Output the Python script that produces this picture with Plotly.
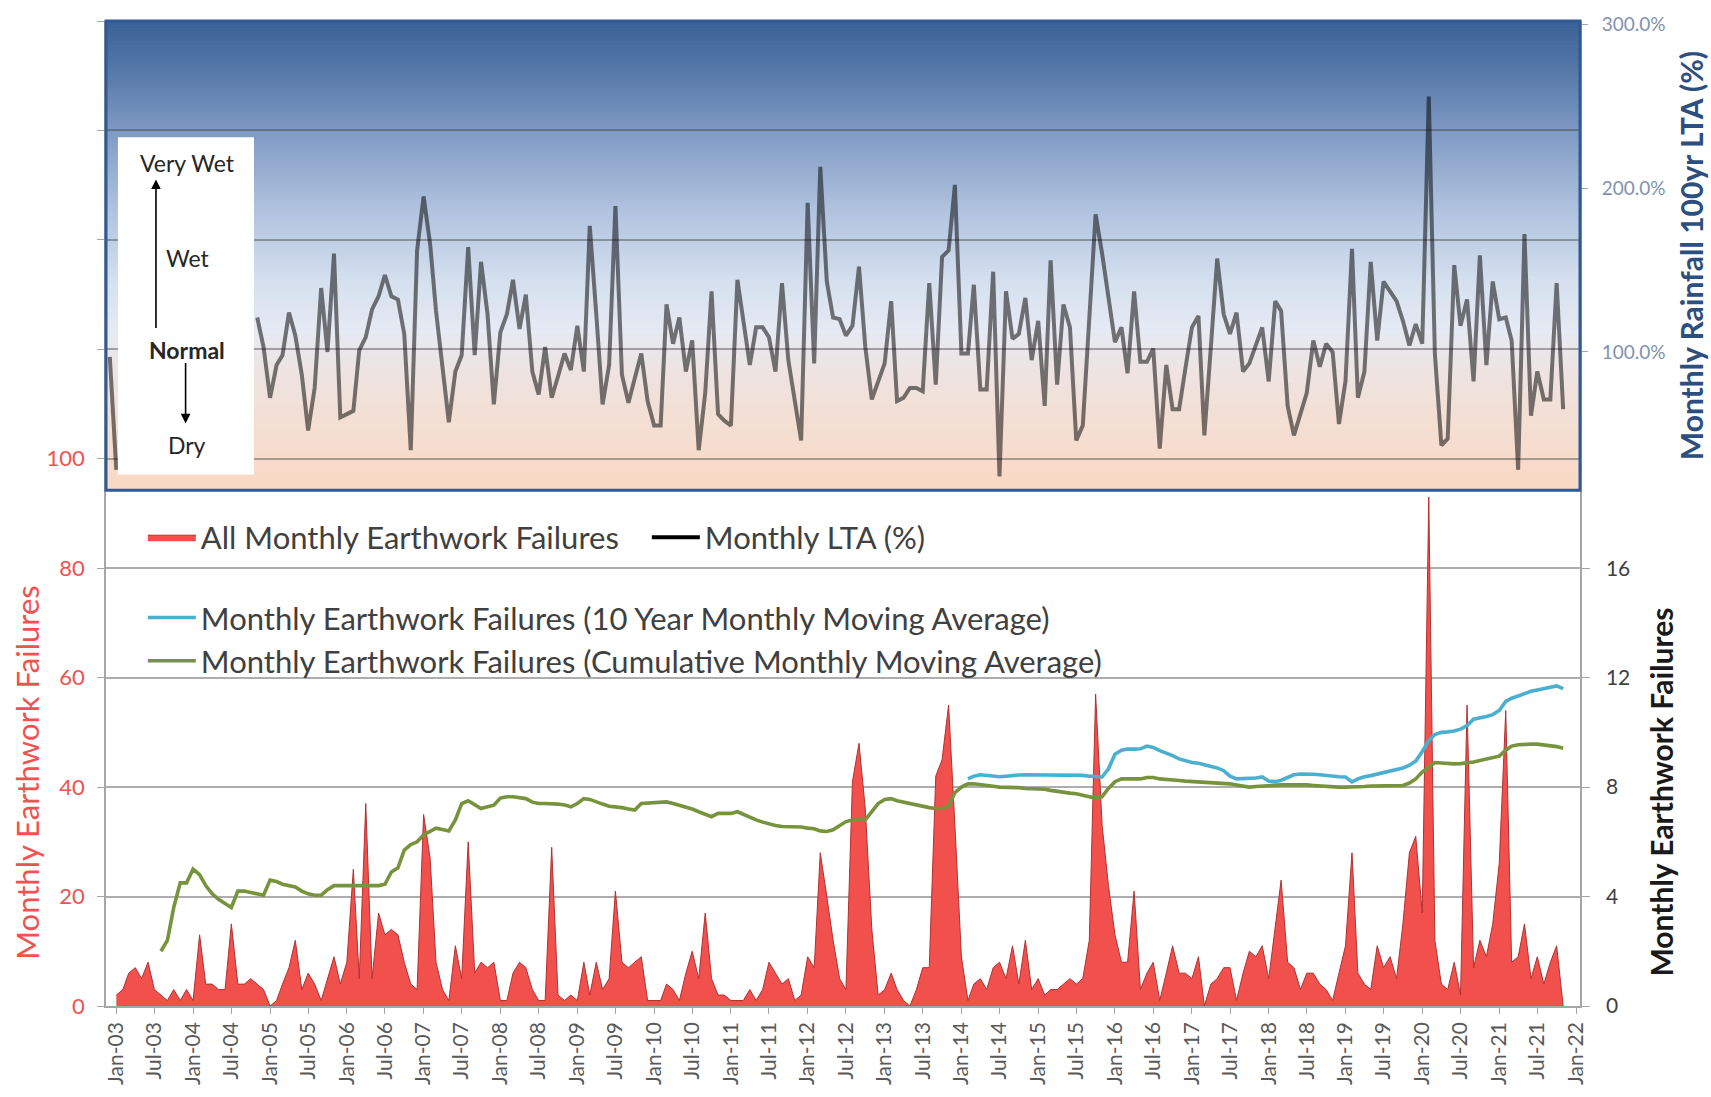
import pandas as pd
import plotly.graph_objects as go

# ---------------------------------------------------------------- data
# All monthly earthwork failures, Jan-03 .. Nov-21 (left axis)
fail_start = "2003-01-01"
failures = [
    2, 3, 6, 7, 5, 8, 3, 2, 1, 3,
    1, 3, 1, 13, 4, 4, 3, 3, 15, 4,
    4, 5, 4, 3, 0, 1, 4, 7, 12, 3,
    6, 4, 1, 5, 9, 4, 8, 25, 5, 37,
    5, 17, 13, 14, 13, 8, 4, 3, 35, 27,
    8, 3, 1, 11, 5, 30, 6, 8, 7, 8,
    1, 1, 6, 8, 7, 3, 1, 1, 29, 2,
    1, 2, 1, 8, 2, 8, 3, 5, 21, 8,
    7, 8, 9, 1, 1, 1, 4, 3, 1, 6,
    10, 5, 17, 5, 2, 2, 1, 1, 1, 3,
    1, 3, 8, 6, 4, 5, 1, 2, 9, 7,
    28, 20, 12, 5, 3, 41, 48, 36, 14, 2,
    3, 6, 3, 1, 0, 3, 7, 7, 42, 45,
    55, 33, 9, 1, 4, 5, 3, 7, 8, 5,
    11, 4, 12, 3, 5, 2, 3, 3, 4, 5,
    4, 5, 12, 57, 33, 22, 13, 8, 8, 21,
    3, 6, 8, 1, 6, 11, 6, 6, 5, 9,
    0, 4, 5, 7, 7, 1, 6, 10, 9, 11,
    5, 14, 23, 8, 7, 3, 6, 6, 4, 3,
    1, 6, 11, 28, 6, 4, 3, 11, 7, 9,
    5, 15, 28, 31, 17, 93, 12, 4, 3, 8,
    2, 55, 7, 12, 9, 15, 26, 54, 8, 9,
    15, 5, 9, 4, 8, 11, 0,
]

# Monthly rainfall as % of the 100yr long-term average (Dec-02 .. Nov-21);
# months hidden behind the wet/dry key are left empty
rain_start = "2002-12-01"
rain_pct = [97, 28] + [None] * 21 + [
    121, 103, 72, 92, 98, 124, 110, 86, 52, 78,
    139, 100, 160, 60, 62, 64, 101, 109, 126, 134,
    147, 134, 132, 111, 40, 162, 195, 166, 125, 90,
    57, 88, 98, 164, 98, 155, 123, 68, 112, 123,
    144, 114, 135, 88, 74, 103, 72, 85, 99, 89,
    116, 88, 177, 123, 68, 92, 189, 86, 69, 84,
    99, 70, 55, 55, 129, 105, 121, 88, 107, 40,
    75, 137, 62, 58, 55, 144, 118, 92, 115, 115,
    109, 88, 142, 95, 70, 46, 191, 93, 213, 143,
    121, 120, 110, 116, 152, 103, 71, 82, 93, 131,
    70, 72, 78, 78, 76, 142, 80, 158, 162, 202,
    99, 99, 141, 77, 77, 149, 24, 137, 108, 111,
    133, 95, 119, 67, 156, 80, 129, 115, 46, 55,
    122, 184, 160, 133, 106, 115, 87, 137, 94, 94,
    102, 41, 92, 65, 65, 90, 115, 122, 49, 103,
    157, 123, 111, 124, 88, 93, 104, 115, 82, 131,
    125, 67, 49, 62, 75, 107, 91, 105, 100, 56,
    82, 163, 72, 88, 155, 107, 143, 137, 131, 119,
    104, 117, 105, 256, 99, 43, 47, 153, 116, 132,
    82, 159, 92, 143, 120, 121, 107, 28, 172, 61,
    88, 71, 71, 142, 65,
]

# 10 year monthly moving average (right axis), Feb-14 .. Nov-21
avg10_start = "2014-02-01"
avg10 = [
    8.3, 8.4, 8.45, 8.42, 8.4, 8.38, 8.4, 8.43, 8.44, 8.45,
    8.45, 8.44, 8.43, 8.44, 8.45, 8.45, 8.44, 8.43, 8.43, 8.4,
    8.38, 8.37, 8.67, 9.2, 9.35, 9.39, 9.39, 9.4, 9.5, 9.45,
    9.33, 9.25, 9.15, 9.03, 8.95, 8.9, 8.87, 8.82, 8.77, 8.7,
    8.6, 8.4, 8.3, 8.3, 8.3, 8.33, 8.37, 8.22, 8.2, 8.25,
    8.35, 8.45, 8.48, 8.49, 8.47, 8.45, 8.42, 8.4, 8.38, 8.37,
    8.19, 8.3, 8.38, 8.42, 8.47, 8.52, 8.57, 8.62, 8.7, 8.8,
    8.95, 9.3, 9.7, 9.92, 10.0, 10.02, 10.05, 10.12, 10.25, 10.48,
    10.52, 10.58, 10.65, 10.8, 11.13, 11.25, 11.33, 11.43, 11.5, 11.55,
    11.6, 11.67, 11.7, 11.6,
]

# Cumulative monthly moving average (right axis), Aug-03 .. Nov-21
cum_start = "2003-08-01"
cum_avg = [
    2.0, 2.4, 3.6, 4.5, 4.5, 5.0, 4.8, 4.4, 4.1, 3.9,
    3.75, 3.6, 4.2, 4.2, 4.15, 4.1, 4.05, 4.6, 4.55, 4.45,
    4.4, 4.35, 4.2, 4.1, 4.05, 4.05, 4.25, 4.4, 4.4, 4.4,
    4.4, 4.4, 4.4, 4.4, 4.4, 4.45, 4.9, 5.05, 5.7, 5.9,
    6.0, 6.25, 6.4, 6.5, 6.45, 6.4, 6.8, 7.4, 7.5, 7.35,
    7.22, 7.28, 7.34, 7.6, 7.65, 7.65, 7.6, 7.58, 7.45, 7.4,
    7.4, 7.4, 7.38, 7.35, 7.28, 7.4, 7.58, 7.55, 7.45, 7.38,
    7.3, 7.28, 7.25, 7.2, 7.16, 7.4, 7.42, 7.44, 7.45, 7.46,
    7.4, 7.33, 7.28, 7.2, 7.1, 7.0, 6.92, 7.04, 7.04, 7.04,
    7.1, 7.0, 6.9, 6.8, 6.72, 6.65, 6.6, 6.56, 6.56, 6.56,
    6.54, 6.5, 6.48, 6.4, 6.38, 6.44, 6.6, 6.74, 6.8, 6.8,
    6.8, 7.1, 7.4, 7.55, 7.58, 7.5, 7.45, 7.4, 7.35, 7.28,
    7.25, 7.22, 7.22, 7.3, 7.8, 8.0, 8.12, 8.12, 8.1, 8.06,
    8.03, 8.0, 8.0, 8.0, 7.98, 7.95, 7.94, 7.94, 7.92, 7.88,
    7.84, 7.8, 7.78, 7.76, 7.72, 7.65, 7.6, 7.65, 7.95, 8.2,
    8.3, 8.3, 8.3, 8.3, 8.35, 8.35, 8.3, 8.27, 8.25, 8.24,
    8.22, 8.21, 8.2, 8.19, 8.17, 8.15, 8.13, 8.12, 8.08, 8.04,
    8.0, 8.02, 8.04, 8.06, 8.07, 8.08, 8.08, 8.09, 8.09, 8.08,
    8.06, 8.04, 8.02, 8.0, 8.0, 8.0, 8.0, 8.01, 8.02, 8.04,
    8.05, 8.05, 8.06, 8.06, 8.06, 8.15, 8.3, 8.55, 8.75, 8.9,
    8.88, 8.86, 8.85, 8.86, 8.88, 8.92, 8.97, 9.03, 9.09, 9.13,
    9.35, 9.5, 9.55, 9.57, 9.57, 9.57, 9.55, 9.52, 9.48, 9.42,
]

left_ticks = [0, 20, 40, 60, 80, 100, 120, 140, 160, 180]
left_labels = ["0", "20", "40", "60", "80", "100", "", "", "", ""]
right_ticks = [0, 4, 8, 12, 16]
rain_ticks = [100, 200, 300]
rain_labels = ["100.0%", "200.0%", "300.0%"]


def months(start, values):
    return pd.date_range(start, periods=len(values), freq="MS")


FONT = "Lato, 'Open Sans', sans-serif"
TEXT = "#404040"
AXIS_GREY = "#a6a6a6"
RED_TXT = "#f05252"

fig = go.Figure()

fig.add_trace(go.Scatter(
    x=months(fail_start, failures), y=failures, name="All Monthly Earthwork Failures",
    mode="lines", fill="tozeroy", fillcolor="#f2504d",
    line=dict(color="#b33030", width=1), yaxis="y", legend="legend",
))
# legend entry for the rainfall series (drawn solid black in the key)
fig.add_trace(go.Scatter(
    x=[None], y=[None], name="Monthly LTA (%)", mode="lines",
    line=dict(color="#000000", width=4), yaxis="y", legend="legend",
))
fig.add_trace(go.Scatter(
    x=months(avg10_start, avg10), y=avg10,
    name="Monthly Earthwork Failures (10 Year Monthly Moving Average)",
    mode="lines", line=dict(color="#4bb0cf", width=3.6),
    yaxis="y2", legend="legend2", legendgroup="ma10",
))
fig.add_trace(go.Scatter(
    x=months(cum_start, cum_avg), y=cum_avg,
    name="Monthly Earthwork Failures (Cumulative Monthly Moving Average)",
    mode="lines", line=dict(color="#77933c", width=3.6),
    yaxis="y2", legend="legend2", legendgroup="cum",
))
fig.add_trace(go.Scatter(
    x=months(rain_start, rain_pct), y=rain_pct, name="Monthly LTA (%)",
    mode="lines", line=dict(color="rgba(0,0,0,0.52)", width=4),
    xaxis="x", yaxis="y3", showlegend=False, connectgaps=False,
))

# ---------------------------------------------------------------- panel styling
PANEL_BOTTOM = 0.52348
shapes = []

# vertical blue -> peach gradient behind the rainfall panel
grad_stops = [
    (0.00, (58, 97, 150)), (0.10, (84, 119, 168)), (0.24, (128, 155, 196)),
    (0.40, (175, 194, 222)), (0.55, (212, 223, 238)), (0.66, (230, 234, 243)),
    (0.72, (236, 229, 230)), (0.85, (243, 223, 212)), (1.00, (250, 217, 196)),
]


def grad_colour(t):
    for (t0, c0), (t1, c1) in zip(grad_stops[:-1], grad_stops[1:]):
        if t <= t1:
            f = (t - t0) / (t1 - t0)
            return "rgb(%d,%d,%d)" % tuple(round(a + (b - a) * f) for a, b in zip(c0, c1))
    return "rgb(%d,%d,%d)" % grad_stops[-1][1]


N_BANDS = 140
band_h = (1.0 - PANEL_BOTTOM) / N_BANDS
for i in range(N_BANDS):
    top = 1.0 - i * band_h
    shapes.append(dict(
        type="rect", xref="paper", yref="paper", layer="below",
        x0=0, x1=1, y0=max(PANEL_BOTTOM, top - band_h - 0.0008), y1=top,
        line=dict(width=0), fillcolor=grad_colour((i + 0.5) / N_BANDS),
    ))

# white wet/dry key box
shapes.append(dict(
    type="rect", xref="paper", yref="paper", layer="above",
    x0=0.0081, x1=0.1004, y0=0.5395, y1=0.8821,
    line=dict(width=0), fillcolor="white",
))
# rainfall panel frame
shapes.append(dict(
    type="rect", xref="paper", yref="paper", layer="above",
    x0=0, x1=1, y0=PANEL_BOTTOM, y1=1.0,
    line=dict(color="#2f5a94", width=3), fillcolor="rgba(0,0,0,0)",
))

key_font = dict(family=FONT, size=23, color="#262626")


def key_text(text, x, y):
    return dict(text=text, x=x, y=y, xref="paper", yref="paper", xanchor="center",
                yanchor="middle", showarrow=False, font=key_font)


def side_title(text, x, y, size, colour):
    return dict(text=text, x=x, y=y, xref="paper", yref="paper", xanchor="center",
                yanchor="middle", textangle=-90, showarrow=False,
                font=dict(family=FONT, size=size, color=colour))


annotations = [
    key_text("Very Wet", 0.0550, 0.8561),
    key_text("Wet", 0.0553, 0.7592),
    key_text("<b>Normal</b>", 0.0550, 0.6663),
    key_text("Dry", 0.0550, 0.5694),
    # up and down arrows of the key
    dict(text="", x=0.0339, y=0.8392, xref="paper", yref="paper", ax=0, ay=150,
         showarrow=True, arrowhead=2, arrowsize=1.2, arrowwidth=1.6, arrowcolor="#000000"),
    dict(text="", x=0.0540, y=0.5914, xref="paper", yref="paper", ax=0, ay=-62,
         showarrow=True, arrowhead=2, arrowsize=1.2, arrowwidth=1.6, arrowcolor="#000000"),
    # axis titles
    side_title("Monthly Earthwork Failures", -0.0536, 0.2368, 31, RED_TXT),
    side_title("<b>Monthly Earthwork Failures</b>", 1.0550, 0.2168, 30, "#1a1a1a"),
    side_title("<b>Monthly Rainfall 100yr LTA (%)</b>", 1.0753, 0.7622, 30, "#2d4f7f"),
]

fig.update_layout(
    width=1711, height=1097,
    margin=dict(l=106, r=131, t=16, b=80),
    paper_bgcolor="white", plot_bgcolor="rgba(0,0,0,0)",
    font=dict(family=FONT, color=TEXT),
    shapes=shapes, annotations=annotations,
    xaxis=dict(
        type="date", range=["2002-11-13", "2022-01-20"],
        tick0="2003-01-01", dtick="M6", tickformat="%b-%y", tickangle=-90,
        showgrid=False, zeroline=False,
        showline=True, linecolor=AXIS_GREY, linewidth=1.5,
        ticks="outside", ticklen=6, tickcolor=AXIS_GREY,
        tickfont=dict(family=FONT, size=21, color="#595959"),
    ),
    yaxis=dict(
        domain=[0, 1], range=[0, 180],
        tickmode="array", tickvals=left_ticks, ticktext=left_labels,
        showgrid=True, gridcolor="rgba(60,60,60,0.42)", gridwidth=2, zeroline=False,
        showline=True, linecolor=AXIS_GREY, linewidth=1.5,
        ticks="outside", ticklen=7, tickcolor=AXIS_GREY, ticklabelstandoff=8,
        tickfont=dict(family=FONT, size=22, color=RED_TXT),
    ),
    yaxis2=dict(
        overlaying="y", side="right", anchor="x", range=[0, 36],
        tickmode="array", tickvals=right_ticks,
        showgrid=False, zeroline=False,
        showline=True, linecolor=AXIS_GREY, linewidth=1.5,
        ticks="outside", ticklen=8, tickcolor=AXIS_GREY, ticklabelstandoff=12,
        tickfont=dict(family=FONT, size=21, color="#404040"),
    ),
    yaxis3=dict(
        domain=[PANEL_BOTTOM, 1], anchor="x", side="right", range=[15.45, 302.1],
        tickmode="array", tickvals=rain_ticks, ticktext=rain_labels,
        showgrid=False, zeroline=False, showline=False,
        ticks="outside", ticklen=7, tickcolor="#9aa8bb", ticklabelstandoff=10,
        tickfont=dict(family=FONT, size=19, color="#8193ad"),
    ),
    legend=dict(
        orientation="h", x=0.025, xanchor="left", y=0.503, yanchor="top",
        font=dict(family=FONT, size=31, color=TEXT), itemwidth=48,
        entrywidth=441, entrywidthmode="pixels",
        bgcolor="rgba(0,0,0,0)", traceorder="normal",
    ),
    legend2=dict(
        orientation="v", x=0.025, xanchor="left", y=0.4215, yanchor="top",
        font=dict(family=FONT, size=31, color=TEXT), itemwidth=48,
        bgcolor="rgba(0,0,0,0)", tracegroupgap=11, traceorder="normal",
    ),
)

fig.write_html("out.html")
